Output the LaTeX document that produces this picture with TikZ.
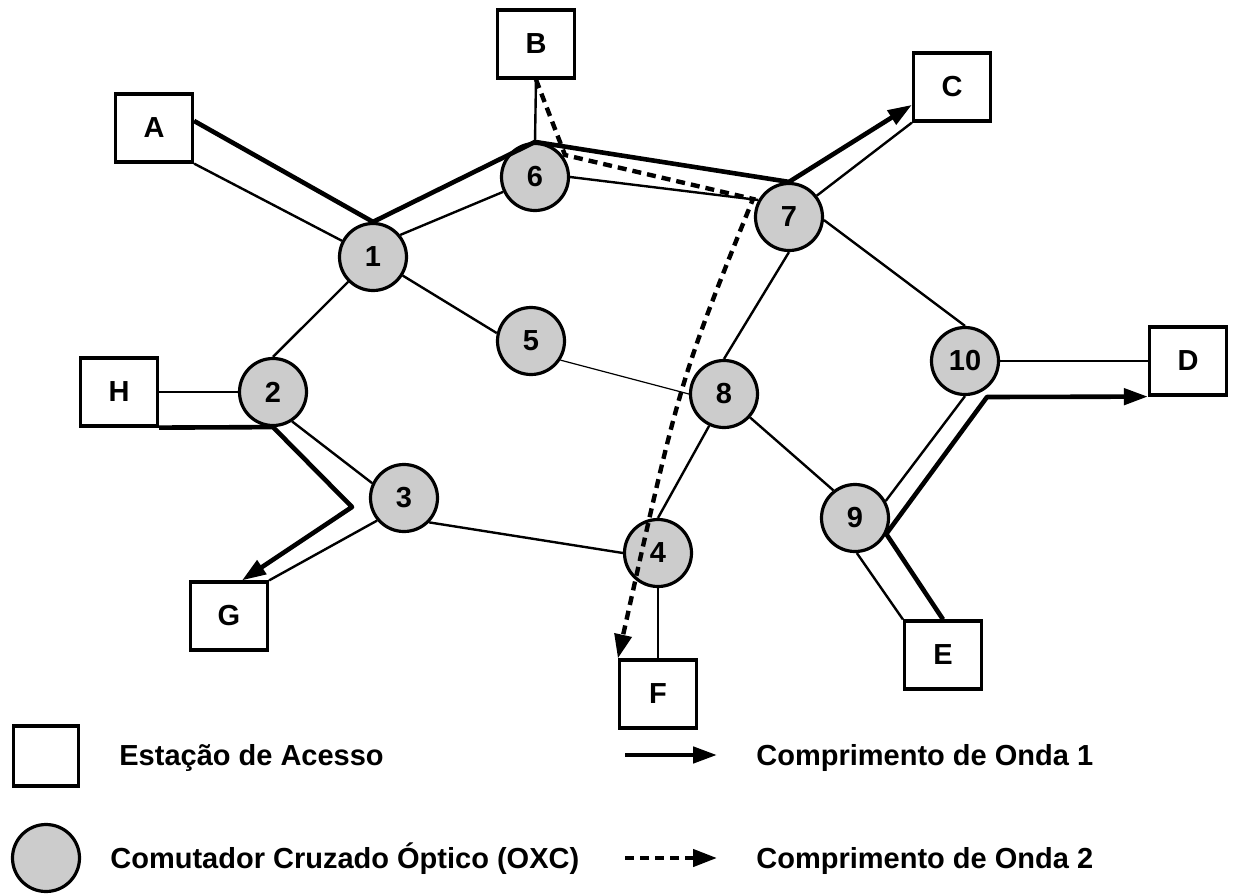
\documentclass[tikz,border=0pt]{standalone}
\usepackage{fontspec}
\setmainfont{Liberation Sans}
\usetikzlibrary{arrows.meta}

\begin{document}
\begin{tikzpicture} [x = 0.5pt, y = -0.5pt, font = \bfseries\fontsize{14.5}{17}\selectfont,
    station/.style = {draw, line width = 1.6pt, fill = white, inner sep = 0pt,
                      minimum width = 38.5pt, minimum height = 34pt},
    oxc/.style = {circle, draw, line width = 1.6pt, fill = black!20, inner sep = 0pt,
                  minimum size = 33.5pt},
    link/.style = {line width = 1.2pt},
    wave1/.style = {line width = 2.3pt, line join = round,
                    -{Triangle[length = 12pt, width = 8pt]}},
    wave2/.style = {line width = 2.2pt, dash pattern = on 4.5pt off 3pt,
                    -{Triangle[length = 12pt, width = 8.5pt]}}]
    \useasboundingbox (0,0) rectangle (1233,895);

    % access stations
    \node (A) [station] at (154,128) {A};
    \node (B) [station] at (536,44) {B};
    \node (C) [station] at (952,87) {C};
    \node (D) [station] at (1188,361) {D};
    \node (E) [station] at (943,655) {E};
    \node (F) [station] at (658,694) {F};
    \node (G) [station] at (229,616) {G};
    \node (H) [station] at (119,392) {H};

    % optical cross-connects
    \node (n1) [oxc] at (373,257) {1};
    \node (n2) [oxc] at (273,392) {2};
    \node (n3) [oxc] at (404,498) {3};
    \node (n4) [oxc] at (658,553) {4};
    \node (n5) [oxc] at (531,341) {5};
    \node (n6) [oxc] at (535,177) {6};
    \node (n7) [oxc] at (789,217) {7};
    \node (n8) [oxc] at (724,394) {8};
    \node (n9) [oxc] at (855,518) {9};
    \node (n10) [oxc] at (965,361) {10};

    \coordinate (k3) at (352,507);
    \coordinate (k6) at (565,155);
    \coordinate (k7) at (753,199);
    \coordinate (k10) at (987,397);

    % fibres
    \path [link] (A.south east) edge (n1);
    \path [link] (B.south) edge (n6.north);
    \path [link] (C.south west) edge (n7);
    \path [link] (n10) edge (D);
    \path [link] (E.north west) edge (n9.-87);
    \path [link] (n4) edge (F);
    \path [link] (G.north east) edge (n3.220);
    \path [link] (H) edge (n2);
    \path [link] (n1.225) edge (n2.north);
    \path [link] (n1.-32) edge (n5.167);
    \path [link] (n1.39) edge (n6.205);
    \path [link] (n2.-57) edge (n3.155);
    \path [link] (n3.-44) edge (n4.west);
    \path [link] (n4.north) edge (n8.245);
    \path [line width = 0.6pt] (n5.-33) edge (n8.west);
    \path [link] (n6.east) edge (n7.151);
    \path [link] (n7.south) edge (n8.north);
    \path [link] (n7.-5) edge (n10.north);
    \path [link] (n8.-42) edge (n9.128);
    \path [link] (n9.29) edge (n10.south);

    % lightpaths
    \draw [wave1] (A.10) -- (n1.north) -- (n6.north) -- (n7.north) -- (C.204);
    \draw [wave1] (H.south east) -- (n2.south) -- (k3) -- (G.70);
    \draw [wave1] (E.north) -- (n9.-27) -- (k10) -- (D.south west);
    \draw [wave2] (B.south) -- (k6) -- (k7) .. controls (680,380) .. (F.north west);

    % legend
    \node (keystation) [station, minimum width = 32.5pt, minimum height = 30pt] at (46,756) {};
    \node (keyoxc) [oxc] at (46,858) {};
    \node (keystationtext) [anchor = base west, inner sep = 0pt] at (119,765) {Estação de Acesso};
    \node (keyoxctext) [anchor = base west, inner sep = 0pt] at (110,868) {Comutador Cruzado Óptico (OXC)};
    \coordinate (key1a) at (625,755);
    \coordinate (key1b) at (717,755);
    \coordinate (key2a) at (625,858);
    \coordinate (key2b) at (717,858);
    \draw [wave1] (key1a) -- (key1b);
    \draw [wave2] (key2a) -- (key2b);
    \node (keywave1) [anchor = base west, inner sep = 0pt] at (756,765) {Comprimento de Onda 1};
    \node (keywave2) [anchor = base west, inner sep = 0pt] at (756,868) {Comprimento de Onda 2};
\end{tikzpicture}
\end{document}
